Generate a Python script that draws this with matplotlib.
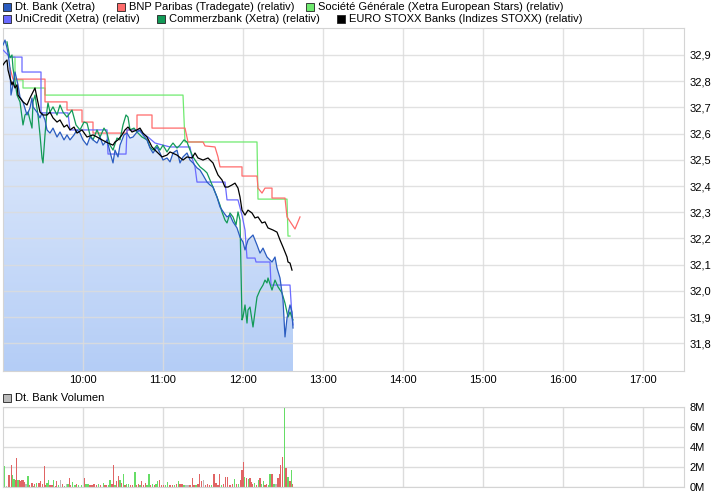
import numpy as np
import matplotlib.pyplot as plt
from matplotlib.patches import Rectangle, Polygon
from matplotlib.colors import LinearSegmentedColormap

plt.rcParams['font.family'] = ['Liberation Sans', 'DejaVu Sans']

# time axis = minutes after 09:00
# Dt. Bank (Xetra)
db_t = [0, 1.5, 3, 3.75, 5.25, 6, 7.5, 9, 11.25, 12.75, 15, 18, 20.25, 21.75, 22.5, 25.5, 27.75, 29.25,
        31.5, 33, 35.25, 37.5, 40.5, 42.75, 45.75, 48, 50.25, 53.25, 55.5, 57.75, 60, 63, 65.25, 67.5,
        70.5, 72.75, 75, 78, 80.25, 82.5, 84, 86.25, 87.75, 90.75, 93, 95.25, 97.5, 100.5, 102.75, 105,
        108, 110.25, 112.5, 115.5, 117.75, 120, 123, 125.25, 127.5, 130.5, 132.75, 135, 138, 140.25,
        142.5, 145.5, 147.75, 150, 153, 155.25, 157.5, 160.5, 162.75, 165.75, 168, 170.25, 172.5, 175.5,
        177.75, 180, 181.5, 183.75, 187.5, 190.5, 192.75, 195, 198, 201.75, 204, 205.5, 207.75, 210,
        211.5, 213, 215.25, 216.75, 217.5]
db_v = [32.938, 32.957, 32.927, 32.908, 32.850, 32.747, 32.786, 32.835, 32.786, 32.740, 32.721, 32.671,
        32.698, 32.736, 32.702, 32.682, 32.660, 32.679, 32.652, 32.614, 32.602, 32.621, 32.587, 32.606,
        32.576, 32.595, 32.576, 32.595, 32.614, 32.602, 32.576, 32.556, 32.587, 32.576, 32.564, 32.587,
        32.556, 32.576, 32.530, 32.488, 32.537, 32.511, 32.556, 32.595, 32.602, 32.583, 32.587, 32.606,
        32.614, 32.595, 32.576, 32.545, 32.526, 32.549, 32.526, 32.499, 32.507, 32.492, 32.526, 32.537,
        32.488, 32.511, 32.526, 32.499, 32.488, 32.469, 32.461, 32.442, 32.415, 32.404, 32.396, 32.358,
        32.320, 32.297, 32.282, 32.289, 32.263, 32.240, 32.205, 32.186, 32.156, 32.194, 32.213, 32.175,
        32.144, 32.163, 32.129, 32.110, 32.129, 32.087, 32.049, 31.965, 31.824, 31.896, 31.946, 31.919,
        31.858]

# BNP Paribas (Tradegate)
bnp_t = [5.25, 7.5, 31.5, 31.5, 48, 48, 59.25, 59.25, 67.5, 67.5, 93, 93, 100.5, 100.5, 111.75, 111.75,
         136.5, 138.75, 150, 151.5, 159, 161.25, 162.75, 179.25, 179.25, 190.5, 191.25, 194.25, 196.5,
         201.75, 201.75, 211.5, 213, 219, 222.75]
bnp_v = [32.850, 32.808, 32.808, 32.721, 32.721, 32.690, 32.690, 32.644, 32.644, 32.602, 32.602, 32.614,
         32.614, 32.671, 32.671, 32.621, 32.621, 32.568, 32.568, 32.553, 32.549, 32.511, 32.473, 32.473,
         32.438, 32.438, 32.392, 32.373, 32.392, 32.392, 32.354, 32.354, 32.282, 32.236, 32.282]

# Societe Generale (Xetra European Stars)
sg_t = [6.75, 9, 9, 15, 15, 31.5, 31.5, 135, 136.5, 190.5, 191.25, 213, 213.75, 215.25]
sg_v = [32.892, 32.892, 32.805, 32.805, 32.774, 32.774, 32.747, 32.747, 32.568, 32.568, 32.350, 32.350,
        32.209, 32.209]

# UniCredit (Xetra)
uc_t = [0, 5.25, 14.25, 14.25, 28.5, 28.5, 48.75, 50.25, 78, 78.75, 92.25, 93, 101.25, 104.25, 108.75,
        114, 125.25, 140.25, 141.75, 144, 145.5, 166.5, 168, 176.25, 179.25, 181.5, 183, 189, 189.75,
        200.25, 201, 215.25, 216.75, 217.5]
uc_v = [32.919, 32.892, 32.892, 32.835, 32.835, 32.679, 32.679, 32.614, 32.614, 32.522, 32.522, 32.614,
        32.614, 32.602, 32.587, 32.564, 32.549, 32.549, 32.507, 32.473, 32.415, 32.415, 32.347, 32.347,
        32.289, 32.232, 32.125, 32.125, 32.110, 32.110, 32.022, 32.022, 31.900, 31.870]

# Commerzbank (Xetra)
cb_t = [3, 3.75, 5.25, 6.75, 7.5, 10.5, 12.75, 15, 16.5, 18.75, 21.75, 22.5, 24, 26.25, 27.75, 29.25, 30,
        31.5, 33, 33.75, 35.25, 37.5, 40.5, 42.75, 45, 48, 51.75, 54.75, 57.75, 60.75, 63, 65.25, 67.5,
        70.5, 72.75, 75.75, 78, 80.25, 82.5, 85.5, 87.75, 90, 92.25, 93.75, 95.25, 98.25, 100.5, 104.25,
        108, 110.25, 112.5, 115.5, 117.75, 120, 123, 125.25, 127.5, 130.5, 132.75, 135.75, 138, 140.25,
        142.5, 145.5, 147.75, 150.75, 153, 155.25, 157.5, 160.5, 162.75, 164.25, 166.5, 168, 170.25,
        172.5, 174.75, 176.25, 177.75, 179.25, 180, 181.5, 183, 183.75, 185.25, 187.5, 190.5, 192.75,
        195, 196.5, 198, 198.75, 201.75, 204, 206.25, 209.25, 211.5, 213.75, 215.25, 217.5]
cb_v = [32.950, 32.927, 32.889, 32.900, 32.850, 32.747, 32.721, 32.633, 32.671, 32.682, 32.621, 32.721,
        32.747, 32.671, 32.595, 32.507, 32.488, 32.595, 32.690, 32.717, 32.682, 32.702, 32.671, 32.709,
        32.682, 32.663, 32.690, 32.633, 32.614, 32.644, 32.640, 32.595, 32.576, 32.614, 32.587, 32.621,
        32.602, 32.556, 32.537, 32.583, 32.576, 32.633, 32.671, 32.663, 32.614, 32.621, 32.606, 32.587,
        32.576, 32.549, 32.537, 32.556, 32.537, 32.556, 32.530, 32.549, 32.564, 32.545, 32.556, 32.576,
        32.568, 32.537, 32.511, 32.488, 32.473, 32.461, 32.450, 32.423, 32.396, 32.358, 32.327, 32.301,
        32.270, 32.259, 32.297, 32.282, 32.251, 32.301, 32.270, 31.889, 31.900, 31.946, 31.877, 31.927,
        31.938, 31.862, 31.976, 32.003, 32.022, 32.041, 32.030, 32.049, 32.003, 32.041, 32.015, 31.992,
        31.953, 31.900, 31.919, 31.889]

# EURO STOXX Banks (Indizes STOXX)
sx_t = [0, 1.5, 3, 3.75, 5.25, 6.75, 7.5, 9, 10.5, 11.25, 12.75, 15, 18, 20.25, 22.5, 24, 25.5, 27.75,
        30, 33, 35.25, 37.5, 40.5, 42.75, 45.75, 48, 50.25, 53.25, 55.5, 59.25, 63, 67.5, 70.5, 74.25,
        78.75, 82.5, 84, 86.25, 89.25, 91.5, 93.75, 96.75, 100.5, 102.75, 105, 108, 111.75, 114, 116.25,
        119.25, 123, 125.25, 130.5, 135, 138, 141.75, 144, 146.25, 150, 153.75, 157.5, 159, 161.25,
        164.25, 166.5, 168.75, 171.75, 174, 176.25, 177.75, 179.25, 181.5, 183.75, 186.75, 189, 191.25,
        194.25, 196.5, 198.75, 202.5, 205.5, 207.75, 210, 213, 213.75, 215.25, 216.75]
sx_v = [32.862, 32.873, 32.881, 32.843, 32.812, 32.786, 32.797, 32.774, 32.786, 32.747, 32.736, 32.721,
        32.709, 32.736, 32.759, 32.774, 32.736, 32.682, 32.671, 32.671, 32.682, 32.660, 32.644, 32.652,
        32.625, 32.633, 32.614, 32.625, 32.602, 32.614, 32.587, 32.595, 32.587, 32.576, 32.564, 32.556,
        32.568, 32.576, 32.595, 32.614, 32.625, 32.606, 32.614, 32.621, 32.602, 32.587, 32.549, 32.537,
        32.526, 32.511, 32.518, 32.530, 32.518, 32.499, 32.511, 32.507, 32.526, 32.507, 32.499, 32.507,
        32.488, 32.469, 32.442, 32.423, 32.396, 32.396, 32.404, 32.411, 32.392, 32.358, 32.308, 32.289,
        32.308, 32.297, 32.278, 32.282, 32.259, 32.263, 32.240, 32.232, 32.224, 32.194, 32.167, 32.129,
        32.110, 32.106, 32.079]

# Dt. Bank volume (millions), u = up tick, d = down tick, n = unchanged
vol_t = [0.75, 2.75, 4.5, 6.25, 7, 8.25, 9.25, 10.25, 11.25, 12.25, 13.25, 14.25, 15.25, 16.25, 17.25,
         18.75, 19.75, 21.75, 22.75, 23.75, 25.25, 27, 28, 29.5, 31, 32, 33, 34, 35.25, 36.75, 37.75,
         39.25, 40.25, 41.5, 43, 44.5, 46, 47.5, 48.75, 49.75, 50.75, 52.25, 54, 55.25, 56.75, 58.75,
         61, 62.25, 63.75, 65.25, 66.75, 68.25, 70.25, 71.75, 73.25, 75.25, 76.5, 77.75, 79, 80.25,
         81.75, 82.75, 84, 85.25, 86.75, 87.75, 89, 90.25, 91.5, 92.75, 94.25, 95.75, 97.25, 99,
         100.25, 101.75, 102.75, 104, 105.25, 106.75, 108, 109.5, 110.75, 112.25, 113.75, 114.75, 116,
         117.25, 118.75, 120.25, 121.75, 123.5, 125.25, 127.25, 128.5, 130.25, 131.5, 132.75, 134.25,
         135.75, 137.25, 138.75, 140.25, 142.25, 143.25, 144.75, 146.25, 147.25, 148.75, 150.25,
         151.75, 153.25, 154.75, 156.25, 158.25, 159.75, 161.25, 162.25, 163.75, 165.25, 166.75,
         168.25, 170.25, 172.25, 173.75, 175.25, 176.75, 178.25, 179.25, 180.25, 181.25, 182.75, 184,
         185.25, 186.25, 187.25, 188.75, 190.25, 191.5, 192.75, 194, 195.25, 196.5, 197.75, 199,
         200.25, 201.75, 203.25, 204.75, 206.25, 207.25, 208.25, 209.75, 211, 212.25, 213.25, 214.25,
         215.25, 216.25, 217.25]
vol_m = [2.13, 0.13, 1.23, 2.23, 1.23, 0.8, 0.73, 2.9, 0.73, 0.73, 0.57, 0.73, 0.73, 0.47, 0.33,
         1.13, 0.23, 0.4, 0.13, 0.33, 0.4, 0.4, 0.57, 0.33, 2.13, 0.23, 0.4, 0.73, 0.2, 0.23, 0.73,
         0.13, 0.57, 0.23, 0.73, 0.33, 0.13, 0.33, 0.33, 0.93, 0.2, 0.47, 0.2, 0.27, 0.2, 0.2,
         0.93, 0.33, 0.33, 0.2, 0.2, 0.27, 0.2, 0.27, 0.23, 0.4, 0.2, 0.2, 0.2, 0.73,
         0.33, 2.2, 0.2, 0.57, 1.07, 0.73, 0.4, 1.33, 0.2, 0.33, 0.27, 0.2, 0.2, 1.53,
         0.2, 0.27, 0.2, 0.57, 0.2, 0.4, 0.2, 1.27, 0.2, 0.33, 0.2, 0.27, 0.57,
         0.73, 0.2, 0.2, 0.2, 0.53, 0.2, 0.2, 0.2, 0.27, 0.57, 0.33, 0.33,
         0.2, 0.2, 0.2, 0.2, 0.93, 0.2, 0.2, 0.27, 1.27, 0.57, 0.67,
         0.2, 0.33, 0.2, 0.2, 1.27, 0.4, 0.2, 1.27, 0.2, 0.27, 1.03,
         1.03, 0.2, 0.27, 0.8, 0.27, 0.27, 0.67, 1.73, 2.47, 1.0, 0.87, 0.8,
         0.87, 0.47, 0.27, 0.4, 0.2, 0.73, 0.87, 0.33, 0.57, 0.2, 0.33, 0.2,
         1.27, 1.27, 0.33, 0.33, 0.87, 1.33, 2.23, 3.0, 7.93, 1.9, 1.0, 1.0,
         0.57, 1.73, 0.33]
vol_dir = list("undduuddudddddn"
               "uddududdddduuddu"
               "ddundunudduuduu"
               "duuddddududduu"
               "dduddududuuddu"
               "dduddduududuu"
               "ddduuddududd"
               "unndddudddn"
               "ddduddddudd"
               "dddududddudu"
               "dddududuuddu"
               "udundddduduu"
               "dud")

series_labels = ['Dt. Bank (Xetra)', 'BNP Paribas (Tradegate) (relativ)',
                 'Société Générale (Xetra European Stars) (relativ)',
                 'UniCredit (Xetra) (relativ)', 'Commerzbank (Xetra) (relativ)',
                 'EURO STOXX Banks (Indizes STOXX) (relativ)']
series_colors = ['#2a5cc0', '#ff6b6b', '#6fea6f', '#6a6aff', '#129a57', '#000000']

hour_ticks = [60, 120, 180, 240, 300, 360, 420, 480]
hour_labels = ['10:00', '11:00', '12:00', '13:00', '14:00', '15:00', '16:00', '17:00']
price_ticks = [31.8, 31.9, 32.0, 32.1, 32.2, 32.3, 32.4, 32.5, 32.6, 32.7, 32.8, 32.9]
vol_ticks = [0, 2, 4, 6, 8]

W, H = 726, 496
xmax = 510.75
ymin, ymax = 31.694, 33.003
grid_c = '#dcdcdc'

fig = plt.figure(figsize=(W / 100, H / 100), dpi=100)
ax = fig.add_axes([3 / W, 1 - 371 / H, 681 / W, 343 / H])
vax = fig.add_axes([3 / W, 1 - 487 / H, 681 / W, 80 / H])

# gradient area under Dt. Bank
grad = np.linspace(0, 1, 256).reshape(-1, 1)
cmap = LinearSegmentedColormap.from_list('fill', ['#b4cdf6', '#eef4fe'])
im = ax.imshow(grad, extent=[0, xmax, ymin, ymax], origin='lower', aspect='auto', cmap=cmap, zorder=0)
poly = Polygon(list(zip(db_t, db_v)) + [(db_t[-1], ymin), (db_t[0], ymin)], closed=True,
               facecolor='none', edgecolor='none', transform=ax.transData)
ax.add_patch(poly)
im.set_clip_path(poly)

for t in hour_ticks:
    ax.axvline(t, color=grid_c, lw=1, zorder=1, alpha=0.85)
for p in price_ticks:
    ax.axhline(p, color=grid_c, lw=1, zorder=1, alpha=0.85)

ax.plot(sg_t, sg_v, color=series_colors[2], lw=0.9, zorder=2)
ax.plot(bnp_t, bnp_v, color=series_colors[1], lw=0.9, zorder=2)
ax.plot(uc_t, uc_v, color=series_colors[3], lw=0.9, zorder=3)
ax.plot(cb_t, cb_v, color=series_colors[4], lw=0.9, zorder=3)
ax.plot(db_t, db_v, color=series_colors[0], lw=0.9, zorder=4)
ax.plot(sx_t, sx_v, color=series_colors[5], lw=0.9, zorder=5)

ax.set_xlim(0, xmax)
ax.set_ylim(ymin, ymax)
ax.set_xticks(hour_ticks)
ax.set_xticklabels(hour_labels)
ax.yaxis.tick_right()
ax.set_yticks(price_ticks)
ax.set_yticklabels([f'{p:.1f}'.replace('.', ',') for p in price_ticks])
ax.tick_params(length=0, labelsize=8)
ax.tick_params(axis='x', pad=3)
ax.tick_params(axis='y', pad=4)
for s in ax.spines.values():
    s.set_color('#d4d4d4')

# volume panel
vcol = {'u': '#66dd66', 'd': '#e06464', 'n': '#bbbbbb'}
for t in hour_ticks:
    vax.axvline(t, color=grid_c, lw=1, zorder=0)
for v in vol_ticks:
    vax.axhline(v, color=grid_c, lw=1, zorder=0)
vax.bar(vol_t, vol_m, width=1.1, color=[vcol[d] for d in vol_dir], zorder=2)
vax.set_xlim(0, xmax)
vax.set_ylim(0, 8)
vax.set_xticks(hour_ticks)
vax.set_xticklabels([])
vax.yaxis.tick_right()
vax.set_yticks(vol_ticks)
vax.set_yticklabels([f'{v}M' for v in vol_ticks])
vax.tick_params(length=0, labelsize=8)
vax.tick_params(axis='y', pad=4)
for s in vax.spines.values():
    s.set_color('#d4d4d4')

# legend
leg_pos = [(3, 7), (117, 7), (306, 7), (3, 19), (157, 19), (337, 19)]
for (x, y), lab, c in zip(leg_pos, series_labels, series_colors):
    fig.patches.append(Rectangle((x / W, 1 - (y + 4) / H), 8 / W, 8 / H, transform=fig.transFigure,
                                 facecolor=c, edgecolor='#222222', lw=0.6))
    fig.text((x + 12) / W, 1 - y / H, lab, fontsize=8, va='center', ha='left')

fig.patches.append(Rectangle((3 / W, 1 - 402 / H), 8 / W, 8 / H, transform=fig.transFigure,
                             facecolor='#bbbbbb', edgecolor='#222222', lw=0.6))
fig.text(15 / W, 1 - 398 / H, 'Dt. Bank Volumen', fontsize=8, va='center', ha='left')

fig.savefig('out.png', dpi=100)
